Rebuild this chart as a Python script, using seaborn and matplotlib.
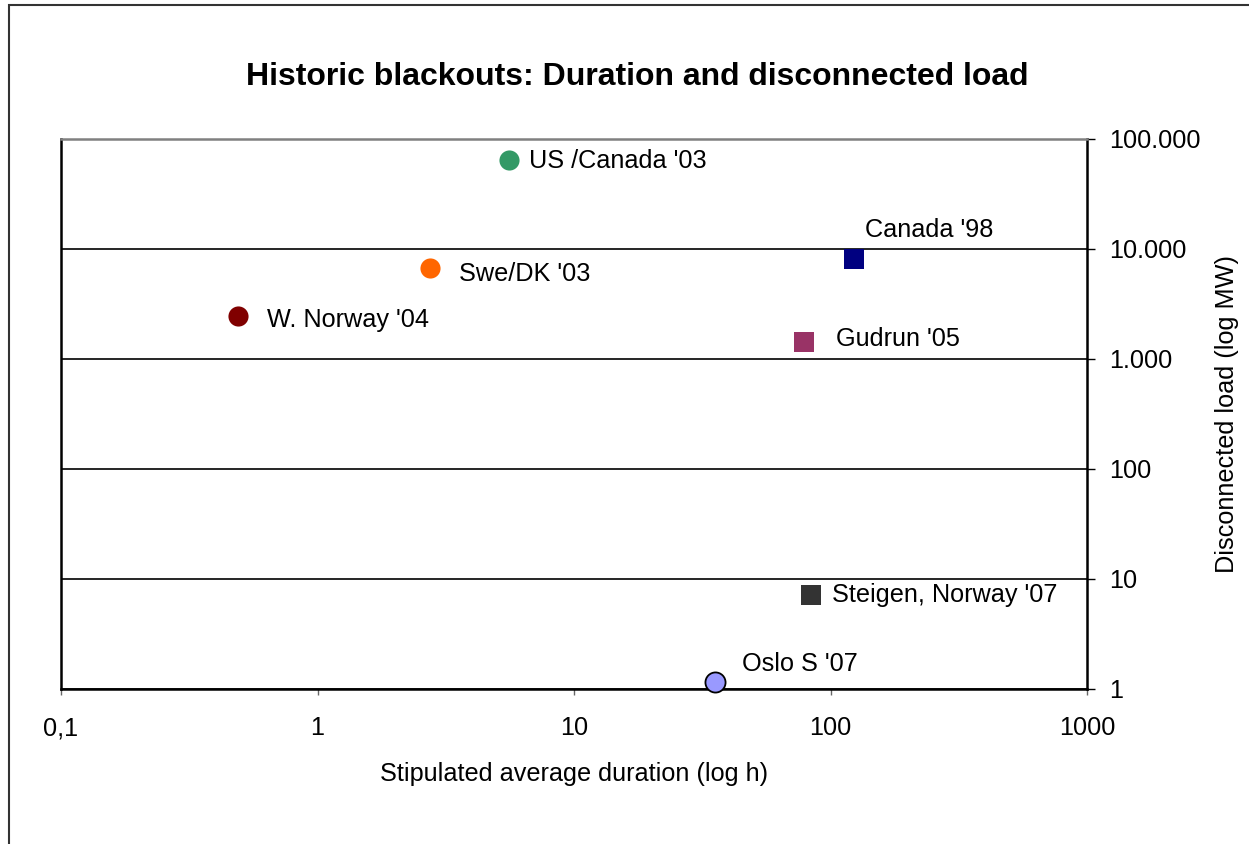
import matplotlib
matplotlib.use("Agg")
import matplotlib.pyplot as plt
import matplotlib.ticker as mticker
from matplotlib.patches import Rectangle
import seaborn as sns
import pandas as pd

# Historic blackouts: stipulated average duration (h) vs disconnected load (MW)
events = ["US /Canada '03", "Swe/DK '03", "W. Norway '04", "Canada '98",
          "Gudrun '05", "Steigen, Norway '07", "Oslo S '07"]
duration_h = [5.6, 2.75, 0.49, 123, 79, 84, 35.5]
load_mw = [64000, 6700, 2450, 8100, 1430, 7.1, 1.16]
colors = ["#339966", "#FF6600", "#800000", "#000080", "#993366", "#333333", "#9999FF"]
shapes = ["o", "o", "o", "s", "s", "s", "o"]
edges = ["none", "none", "none", "none", "none", "none", "black"]

x_ticks = [0.1, 1, 10, 100, 1000]
x_tick_labels = ["0,1", "1", "10", "100", "1000"]
y_ticks = [1, 10, 100, 1000, 10000, 100000]
y_tick_labels = ["1", "10", "100", "1.000", "10.000", "100.000"]

# label offsets (pixels) relative to each marker
label_dx = [20, 29, 29, 11, 32, 21, 27]
label_dy = [-1, -6, -4, 29, 3, 0, 18]

sns.set_theme(style="white")
plt.rcParams["font.family"] = ["Liberation Sans", "DejaVu Sans"]
plt.rcParams["text.color"] = "black"
plt.rcParams["axes.labelcolor"] = "black"
plt.rcParams["xtick.color"] = "black"
plt.rcParams["ytick.color"] = "black"

FS = 18.2

df = pd.DataFrame({"event": events, "duration": duration_h, "load": load_mw})

fig = plt.figure(figsize=(12.49, 8.44), dpi=100)
W, H = 1249, 844
ax = fig.add_axes([61 / W, 1 - 689 / H, (1087 - 61) / W, (689 - 139) / H])

for i, ev in enumerate(events):
    sns.scatterplot(data=df[df["event"] == ev], x="duration", y="load", ax=ax,
                    color=colors[i], marker=shapes[i], s=210,
                    edgecolor=edges[i] if edges[i] != "none" else colors[i],
                    linewidth=1.3 if edges[i] != "none" else 0,
                    legend=False, zorder=5, clip_on=False)
    ax.annotate(ev, (duration_h[i], load_mw[i]), xytext=(label_dx[i], label_dy[i]),
                textcoords="offset pixels", fontsize=FS, ha="left", va="center",
                color="black", zorder=6)

ax.set_xscale("log")
ax.set_yscale("log")
ax.set_xlim(0.1, 1000)
ax.set_ylim(1, 100000)

ax.xaxis.set_major_locator(mticker.FixedLocator(x_ticks))
ax.xaxis.set_major_formatter(mticker.FixedFormatter(x_tick_labels))
ax.xaxis.set_minor_locator(mticker.NullLocator())
ax.yaxis.set_major_locator(mticker.FixedLocator(y_ticks))
ax.yaxis.set_major_formatter(mticker.FixedFormatter(y_tick_labels))
ax.yaxis.set_minor_locator(mticker.NullLocator())

ax.yaxis.tick_right()
ax.yaxis.set_label_position("right")
ax.tick_params(axis="y", which="major", direction="out", length=6, width=1,
               color="black", labelcolor="black", labelsize=FS, pad=10,
               right=True, left=False)
ax.tick_params(axis="x", which="major", direction="out", length=4.5, width=1,
               color="#666666", labelcolor="black", labelsize=FS, pad=15,
               bottom=True)

ax.grid(axis="y", color="black", linewidth=1.2)
ax.grid(axis="x", visible=False)

for side in ["left", "right", "bottom"]:
    ax.spines[side].set_color("black")
    ax.spines[side].set_linewidth(1.8)
ax.spines["top"].set_color("#808080")
ax.spines["top"].set_linewidth(1.8)

ax.set_xlabel("Stipulated average duration (log h)", fontsize=FS, labelpad=16,
              color="black")
ax.set_ylabel("Disconnected load (log MW)", fontsize=FS, labelpad=10, rotation=90,
              color="black")

fig.text(637 / W, 1 - 77 / H, "Historic blackouts: Duration and disconnected load",
         fontsize=23, fontweight="bold", ha="center", va="center", color="black")

# chart frame
fig.patches.append(Rectangle((9 / W, -0.1), 1.2, 1 - 5 / H + 0.1,
                             transform=fig.transFigure, fill=False,
                             edgecolor="#333333", linewidth=1.5))

fig.savefig("out.png", dpi=100, facecolor="white")
